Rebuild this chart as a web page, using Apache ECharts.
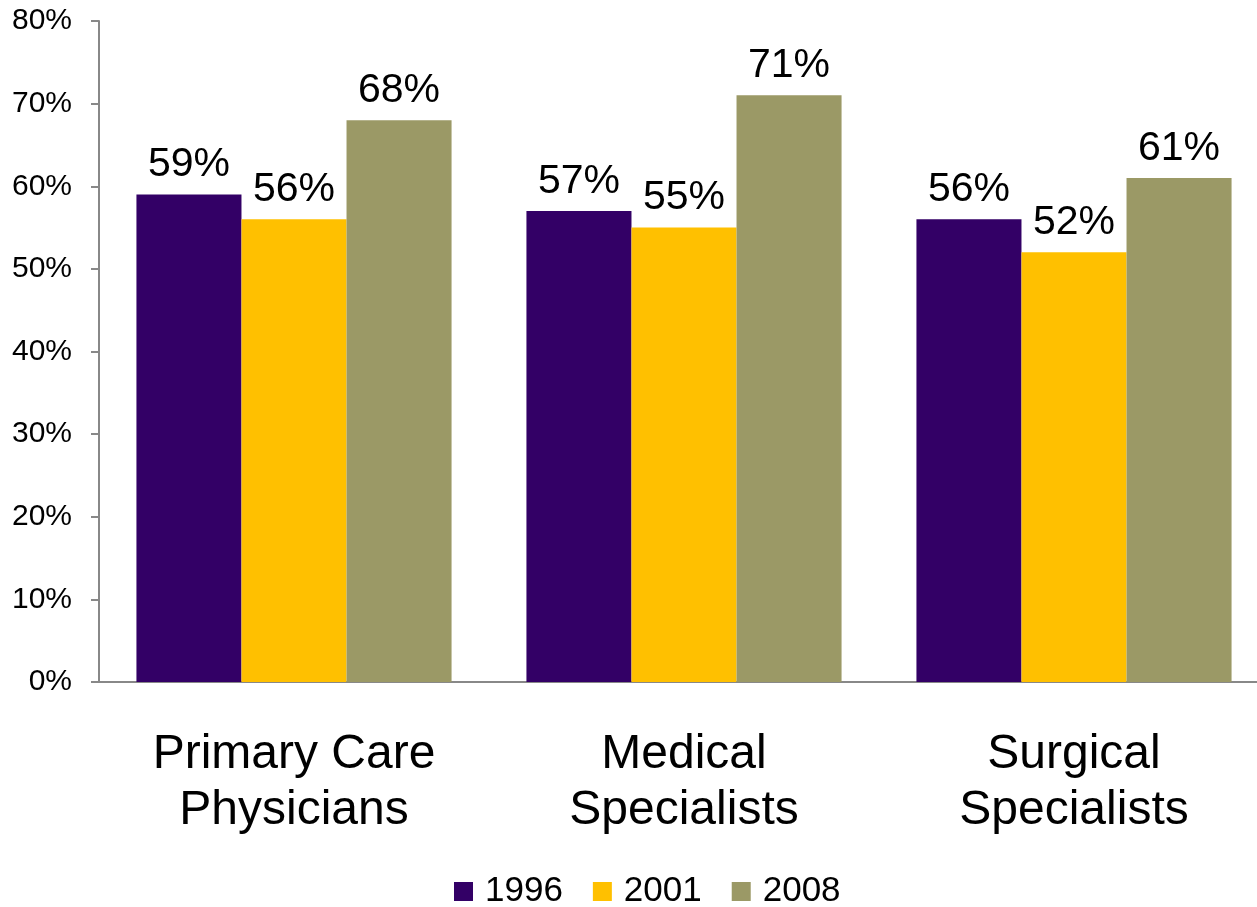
<!DOCTYPE html>
<html><head><meta charset="utf-8">
<script src="https://cdn.jsdelivr.net/npm/echarts@6/dist/echarts.min.js"></script>
<style>html,body{margin:0;padding:0;background:#fff;overflow:hidden}#c{width:1269px;height:907px}</style>
</head><body><div id="c"></div>
<script>
const categories = ['Primary Care\nPhysicians', 'Medical\nSpecialists', 'Surgical\nSpecialists'];
const seriesNames = ['1996', '2001', '2008'];
const values1996 = [59, 57, 56];
const values2001 = [56, 55, 52];
const values2008 = [68, 71, 61];
const colors = ['#330066', '#FFC000', '#9B9966'];
const FONT = 'Liberation Sans, Arial, sans-serif';
const chart = echarts.init(document.getElementById('c'));
const data = [values1996, values2001, values2008];
chart.setOption({
  animation: false,
  textStyle: {fontFamily: FONT},
  grid: {left: 99, top: 21, right: 0, bottom: 225, containLabel: false},
  legend: {
    left: 454, top: 874, padding: 0, itemWidth: 19, itemHeight: 19, itemGap: 30,
    icon: 'rect',
    textStyle: {fontSize: 35, color: '#000', fontFamily: FONT, padding: [0, 0, 0, 7]},
    data: seriesNames
  },
  xAxis: {
    type: 'category', data: categories,
    axisLine: {lineStyle: {color: '#888', width: 2}},
    axisTick: {length: 13, lineStyle: {color: '#888', width: 2}},
    axisLabel: {fontSize: 48, color: '#000', fontFamily: FONT, lineHeight: 56, margin: 45, interval: 0}
  },
  yAxis: {
    type: 'value', min: 0, max: 80, interval: 10,
    axisLine: {show: true, lineStyle: {color: '#888', width: 2}},
    axisTick: {show: true, length: 8, lineStyle: {color: '#888', width: 2}},
    splitLine: {show: false},
    axisLabel: {formatter: '{value}%', fontSize: 30, color: '#000', fontFamily: FONT, margin: 27}
  },
  series: seriesNames.map((n, i) => ({
    name: n, type: 'bar', data: data[i],
    barGap: '0%', barCategoryGap: '19.2%',
    itemStyle: {color: colors[i]},
    label: {show: true, position: 'top', distance: 9, formatter: '{c}%', fontSize: 41, color: '#000', fontFamily: FONT}
  }))
});
</script></body></html>
